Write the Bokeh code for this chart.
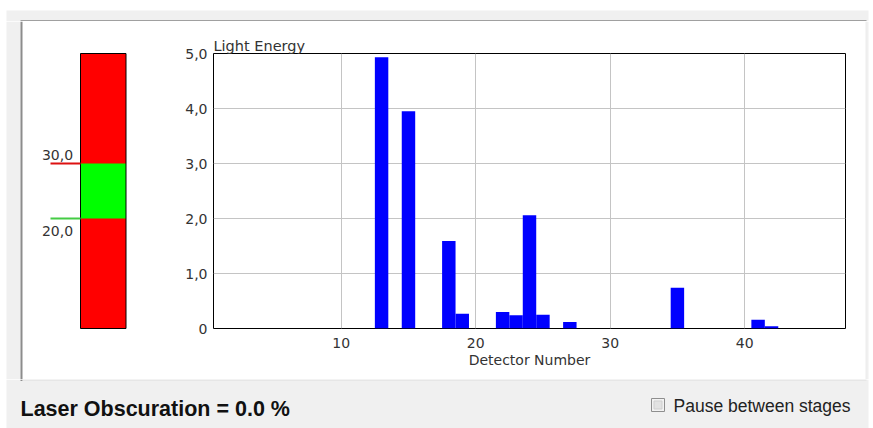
from bokeh.plotting import figure
from bokeh.layouts import column, row
from bokeh.models import Range1d, Label, FixedTicker, Title
from bokeh.embed import file_html
from bokeh.resources import INLINE

# Light energy measured on each detector ring (detectors not listed read zero)
detectors = [13, 15, 18, 19, 22, 23, 24, 25, 27, 35, 41, 42]
light_energy = [4.93, 3.95, 1.59, 0.27, 0.30, 0.24, 2.06, 0.25, 0.12, 0.74, 0.16, 0.04]

x_ticks = [10, 20, 30, 40]
y_ticks = [0, 1, 2, 3, 4, 5]
y_tick_labels = ["0", "1,0", "2,0", "3,0", "4,0", "5,0"]

# Obscuration gauge: full scale and the accepted window
gauge_range = [0, 50]
gauge_band = [20, 30]
gauge_band_labels = ["20,0", "30,0"]
obscuration = 0.0

FONT = "DejaVu Sans"
PANEL = "#f0f0f0"
TEXT = "#333333"

# page blocks (pixels)
W_LEFT, W_CHART, W_RIGHT = 150, 715, 8
H_TOP, H_MID, H_BOT = 21, 358, 49
FRAME_TOP, FRAME_BOTTOM = 32, 307          # plot frame rows inside the middle block
W_ALL = W_LEFT + W_CHART + W_RIGHT


def flat(width, height, x_range, y_range):
    f = figure(width=width, height=height, x_range=x_range, y_range=y_range,
               output_backend="svg", toolbar_location=None, title=None,
               min_border=0, x_axis_location=None, y_axis_location=None,
               outline_line_color=None, background_fill_color="white",
               border_fill_color="white")
    f.grid.visible = False
    return f


# ---- top strip of the window panel
top = flat(W_ALL, H_TOP, Range1d(0, W_ALL), Range1d(H_TOP, 0))
top.quad(left=6, right=868, top=10, bottom=H_TOP, fill_color=PANEL, line_color=None)
top.quad(left=20, right=866, top=19.5, bottom=H_TOP, fill_color="#a0a0a0", line_color=None)

# ---- gauge block
px_per_unit = (FRAME_BOTTOM - FRAME_TOP) / (gauge_range[1] - gauge_range[0])
g_start = gauge_range[0] - (H_MID - FRAME_BOTTOM) / px_per_unit
g_end = gauge_range[1] + FRAME_TOP / px_per_unit
gauge = flat(W_LEFT, H_MID, Range1d(0, W_LEFT), Range1d(g_start, g_end))
gauge.extra_y_ranges = {"px": Range1d(H_MID, 0)}
gauge.quad(left=6, right=20, top=0, bottom=H_MID, y_range_name="px",
           fill_color=PANEL, line_color=None)
gauge.quad(left=20, right=22, top=0, bottom=H_MID, y_range_name="px",
           fill_color="#8c8c8c", line_color=None)

gauge.quad(left=80, right=125.5, bottom=gauge_range[0], top=gauge_range[1],
           fill_color="#ff0000", line_color=None)
gauge.quad(left=80, right=125.5, bottom=gauge_band[0], top=gauge_band[1],
           fill_color="#00ff00", line_color=None)
gauge.quad(left=80, right=125.5, bottom=gauge_range[0], top=gauge_range[1],
           fill_color=None, line_color="black", line_width=1)

marker_half = 0.2
for val, lab, col, base, off in [
        (gauge_band[1], gauge_band_labels[1], "#dd1111", "bottom", 4),
        (gauge_band[0], gauge_band_labels[0], "#44cc44", "top", -7)]:
    gauge.quad(left=50, right=80, bottom=val - marker_half, top=val + marker_half,
               fill_color=col, line_color=None)
    gauge.add_layout(Label(x=57, y=val, y_offset=off, text=lab,
                           text_align="center", text_baseline=base,
                           text_font=FONT, text_font_size="14px",
                           text_color=TEXT))

# ---- spectrum chart
chart = figure(
    width=W_CHART, height=H_MID,
    x_range=Range1d(0.5, 47.5), y_range=Range1d(0, 5),
    output_backend="svg", toolbar_location=None, title=None,
    min_border_left=213 - W_LEFT, min_border_right=W_LEFT + W_CHART - 845,
    min_border_top=FRAME_TOP, min_border_bottom=H_MID - FRAME_BOTTOM,
    border_fill_color="white", background_fill_color="white",
    outline_line_color="black", outline_line_width=1,
)
chart.vbar(x=detectors, top=light_energy, width=1.0,
           fill_color="#0000ff", line_color=None)

chart.xgrid.ticker = FixedTicker(ticks=x_ticks)
chart.ygrid.ticker = FixedTicker(ticks=y_ticks)
for g in (chart.xgrid[0], chart.ygrid[0]):
    g.grid_line_color = "#c4c4c4"
    g.grid_line_width = 1

chart.xaxis.ticker = FixedTicker(ticks=x_ticks)
chart.yaxis.ticker = FixedTicker(ticks=y_ticks)
chart.yaxis.major_label_overrides = dict(zip(y_ticks, y_tick_labels))
for ax in (chart.xaxis[0], chart.yaxis[0]):
    ax.axis_line_color = None
    ax.major_tick_line_color = None
    ax.minor_tick_line_color = None
    ax.major_tick_in = 0
    ax.major_tick_out = 0
    ax.major_label_text_font = FONT
    ax.major_label_text_font_size = "14px"
    ax.major_label_text_color = TEXT
chart.yaxis.major_label_standoff = 6
chart.xaxis.major_label_standoff = 9
chart.xaxis.axis_label = "Detector Number"
chart.xaxis.axis_label_text_font = FONT
chart.xaxis.axis_label_text_font_size = "14px"
chart.xaxis.axis_label_text_font_style = "normal"
chart.xaxis.axis_label_text_color = TEXT
chart.xaxis.axis_label_standoff = 1

chart.add_layout(Title(text="Light Energy", align="left", standoff=0,
                       text_font=FONT, text_font_size="14.5px",
                       text_font_style="normal", text_color=TEXT), "above")

# ---- right edge of the window panel
right = flat(W_RIGHT, H_MID, Range1d(865, 873), Range1d(H_MID, 0))
right.quad(left=865, right=866, top=0, bottom=H_MID, fill_color="#dcdcdc", line_color=None)
right.quad(left=866, right=868, top=0, bottom=H_MID, fill_color=PANEL, line_color=None)

# ---- status line below the group box
y0 = H_TOP + H_MID
bottom = flat(W_ALL, H_BOT, Range1d(0, W_ALL), Range1d(y0 + H_BOT, y0))
bottom.quad(left=6, right=868, top=y0, bottom=y0 + H_BOT, fill_color=PANEL, line_color=None)
bottom.quad(left=20, right=22, top=y0, bottom=y0 + 1.5, fill_color="#8c8c8c", line_color=None)
bottom.quad(left=22, right=866, top=y0, bottom=y0 + 1, fill_color="#dcdcdc", line_color=None)
bottom.add_layout(Label(x=20, y=408, text=f"Laser Obscuration = {obscuration:.1f} %",
                        text_baseline="alphabetic", text_font="Liberation Sans",
                        text_font_style="bold", text_font_size="21.5px",
                        text_color="#111111"))
bottom.quad(left=651, right=664, top=398, bottom=411, fill_color="#f2f2f2",
            line_color="#8e8e8e", line_width=1)
bottom.quad(left=653.5, right=661.5, top=400.5, bottom=408.5, fill_color="#e2e2e2",
            line_color="#cfcfcf", line_width=1)
bottom.add_layout(Label(x=673, y=405, text="Pause between stages",
                        text_baseline="alphabetic", text_font="Liberation Sans",
                        text_font_size="17.5px", text_color="#222222"))

p = column(top, row(column(gauge), column(chart), column(right), spacing=0),
           bottom, spacing=0)
open("out.html", "w").write(file_html(p, INLINE))
